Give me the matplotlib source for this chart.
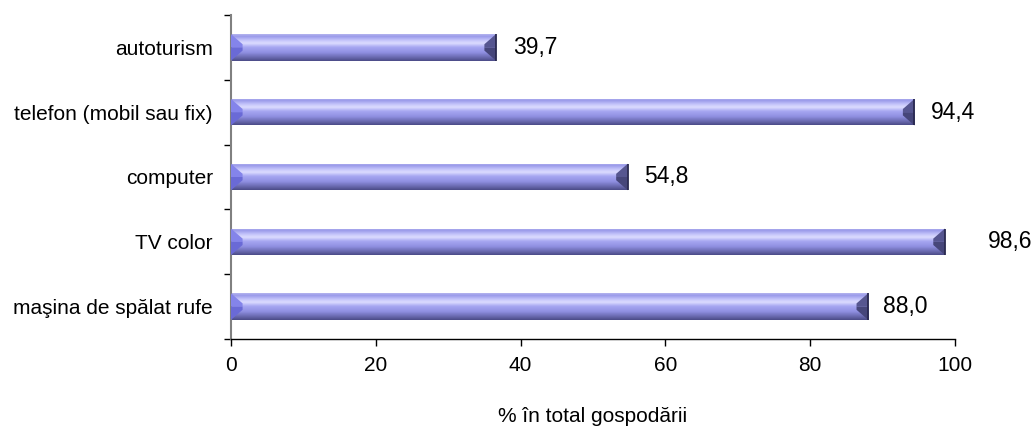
import matplotlib
matplotlib.use("Agg")
import matplotlib.pyplot as plt
import numpy as np
from matplotlib.colors import LinearSegmentedColormap
from matplotlib.patches import Polygon

plt.rcParams['font.family'] = ['Liberation Sans', 'DejaVu Sans']

categories = ["autoturism", "telefon (mobil sau fix)", "computer", "TV color", "maşina de spălat rufe"]
bar_values = [36.6, 94.4, 54.8, 98.6, 88.0]
value_labels = ["39,7", "94,4", "54,8", "98,6", "88,0"]
label_offsets_pt = [12, 12, 12, 31, 11]
xticks = [0, 20, 40, 60, 80, 100]
xlabel = "% în total gospodării"

fig = plt.figure(figsize=(10.35, 4.26), dpi=100)
ax = fig.add_axes([231/1035, 87/426, 724/1035, 324/426])

ypos = np.arange(len(categories))
bar_h = 0.41
bars = ax.barh(ypos, bar_values, height=bar_h, color='none', edgecolor='none', zorder=2)

cmap = LinearSegmentedColormap.from_list("bevel", [
    (0.0, "#b4b4ee"), (0.08, "#9a9aea"), (0.22, "#c4c4fa"), (0.34, "#dcdcff"),
    (0.48, "#a8a8f2"), (0.68, "#9090e2"), (0.84, "#7070b8"), (1.0, "#4c4c88")])
grad = np.linspace(0, 1, 64).reshape(-1, 1)

for rect in bars:
    x0, y0 = rect.get_x(), rect.get_y()
    w, h = rect.get_width(), rect.get_height()
    im = ax.imshow(grad, cmap=cmap, aspect='auto', extent=(x0, x0 + w, y0 + h, y0),
                   origin='upper', zorder=2, interpolation='bilinear')
    im.set_clip_path(rect)
    cw = 1.6
    ins = h * 0.38
    # left bevel: upper (lighter) and lower (darker) halves
    ym = y0 + h / 2
    ax.add_patch(Polygon([(x0, y0), (x0 + cw, y0 + ins), (x0 + cw, ym), (x0, ym)],
                         closed=True, facecolor="#8484ea", edgecolor='none', zorder=3))
    ax.add_patch(Polygon([(x0, ym), (x0 + cw, ym), (x0 + cw, y0 + h - ins), (x0, y0 + h)],
                         closed=True, facecolor="#6a6ad6", edgecolor='none', zorder=3))
    xe = x0 + w
    ax.add_patch(Polygon([(xe, y0), (xe - cw, y0 + ins), (xe - cw, ym), (xe, ym)],
                         closed=True, facecolor="#565690", edgecolor='none', zorder=3))
    ax.add_patch(Polygon([(xe, ym), (xe - cw, ym), (xe - cw, y0 + h - ins), (xe, y0 + h)],
                         closed=True, facecolor="#46467a", edgecolor='none', zorder=3))
    ax.plot([xe, xe], [y0, y0 + h], color="#2a2a50", lw=1.3, zorder=4, solid_capstyle='butt')

for i, (v, lab) in enumerate(zip(bar_values, value_labels)):
    ax.annotate(lab, xy=(v, i), xytext=(label_offsets_pt[i], 0), textcoords='offset points',
                va='center', ha='left', fontsize=16.5, color='black')

ax.set_xlim(0, 100)
ax.set_ylim(len(categories) - 0.5, -0.5)
ax.set_xticks(xticks)
ax.set_xticklabels([str(t) for t in xticks], fontsize=15)
ax.set_yticks(ypos)
ax.set_yticklabels(categories, fontsize=15)
ax.set_yticks(np.arange(-0.5, len(categories), 1.0), minor=True)
ax.tick_params(axis='y', which='major', length=0, pad=13)
ax.tick_params(axis='y', which='minor', length=5, width=1, color='black', direction='out')
ax.tick_params(axis='x', which='major', length=5, width=1, direction='out', pad=7)

for s in ['top', 'right']:
    ax.spines[s].set_visible(False)
ax.spines['left'].set_color('#808080')
ax.spines['left'].set_linewidth(1.5)
ax.spines['bottom'].set_color('black')
ax.spines['bottom'].set_linewidth(1)

fig.text((231 + 955) / 2 / 1035, 1 - 416 / 426, xlabel, ha='center', va='center', fontsize=15)

fig.savefig("out.png", dpi=100)
